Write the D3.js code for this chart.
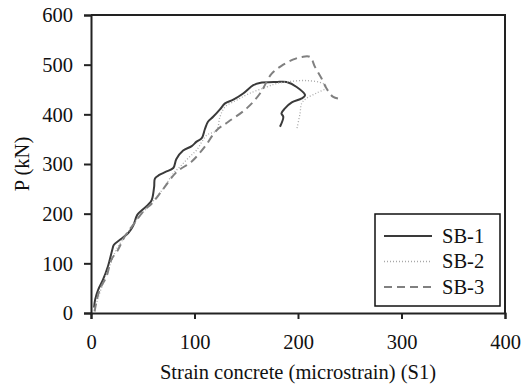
<!DOCTYPE html>
<html>
<head>
<meta charset="utf-8">
<script src="https://cdn.jsdelivr.net/npm/d3@7"></script>
<style>
  body { margin: 0; background: #fff; }
  svg text { font-family: 'Liberation Serif', 'Times New Roman', Times, 'DejaVu Serif', serif; fill: #111; }
</style>
</head>
<body>
<div id="chart"></div>
<script>
// strain (microstrain), load (kN)
const sb1Strain = [3, 4, 7, 11.6, 16.4, 21, 22, 29, 36, 40.6, 44.7, 48.6, 55, 58.6, 61, 61.8, 66, 72, 79.5, 82.5, 89, 97.3, 102, 107, 110, 113, 118, 124.6, 129.5, 137.5, 147, 156.8, 163, 179, 189, 198.7, 206.8, 203.6, 194, 187.4, 184, 185.8, 182.6];
const sb1Load = [11, 27, 47, 67, 94, 131, 137, 149, 161, 175, 197.5, 206, 217.6, 227, 254, 271, 278, 284, 292, 310, 327, 336, 345, 352, 370, 385, 395, 410, 422, 429.6, 442, 458.7, 463, 465, 465, 455, 438.6, 432, 424, 412, 402, 395, 375];

const sb2Strain = [3, 6, 10, 15, 20, 25, 35, 45, 57, 69.9, 79.5, 86, 94, 102, 111.8, 121.4, 124.6, 129.5, 140.8, 153, 169.7, 179.4, 192, 208, 224.5, 227.6, 218, 208, 203.5, 202, 199];
const sb2Load = [5, 25, 50, 80, 105, 130, 160, 190, 217.6, 251, 281, 294.6, 312, 328, 358, 368, 395, 415, 428.6, 442, 455, 462, 466, 468, 462, 454, 443, 432, 422, 402, 371.7];

const sb3Strain = [3.5, 5, 8.4, 15, 19.6, 26, 32.6, 42, 51.8, 58.6, 69.9, 82.8, 97.3, 110, 121.4, 132.7, 150.4, 163.3, 174.6, 185.8, 195, 203.6, 211.6, 216.4, 222.8, 227.6, 234, 241.9];
const sb3Load = [3, 20, 47, 73.6, 107, 127, 154, 181, 207.6, 220, 250, 284, 305, 335, 368, 385, 412, 442, 482, 500, 510, 515.6, 515.6, 495.5, 472, 452, 435, 430.6];

const seriesNames = ['SB-1', 'SB-2', 'SB-3'];
const xTicks = [0, 100, 200, 300, 400];
const yTicks = [0, 100, 200, 300, 400, 500, 600];

const FONT = "'Liberation Serif', 'Times New Roman', Times, 'DejaVu Serif', serif";
const FS = 20.5;

const styles = {
  'SB-1': { stroke: '#3a3a3a', width: 2, dash: null },
  'SB-2': { stroke: '#a8a8a8', width: 1.3, dash: '1,2' },
  'SB-3': { stroke: '#808080', width: 2, dash: '8,5' }
};

const W = 521, H = 389;
const m = { top: 15, right: 16, bottom: 76, left: 91 };
const iw = W - m.left - m.right;
const ih = H - m.top - m.bottom;

const svg = d3.select('#chart').append('svg')
  .attr('width', W).attr('height', H)
  .attr('font-family', FONT);

const g = svg.append('g')
  .attr('transform', 'translate(' + m.left + ',' + m.top + ')');

const x = d3.scaleLinear().domain([0, 400]).range([0, iw]);
const y = d3.scaleLinear().domain([0, 600]).range([ih, 0]);

const toPts = (xs, ys) => xs.map((v, i) => [v, ys[i]]);
const data = {
  'SB-1': toPts(sb1Strain, sb1Load),
  'SB-2': toPts(sb2Strain, sb2Load),
  'SB-3': toPts(sb3Strain, sb3Load)
};

// frame (top and right)
g.append('path')
  .attr('d', 'M0,0H' + iw + 'V' + ih)
  .attr('fill', 'none')
  .attr('stroke', '#222')
  .attr('stroke-width', 2);

const line = d3.line()
  .x((d) => x(d[0]))
  .y((d) => y(d[1]))
  .curve(d3.curveCatmullRom.alpha(0.5));

seriesNames.forEach((name) => {
  const s = styles[name];
  g.append('path')
    .datum(data[name])
    .attr('d', line)
    .attr('fill', 'none')
    .attr('stroke', s.stroke)
    .attr('stroke-width', s.width)
    .attr('stroke-dasharray', s.dash);
});

const xAxis = g.append('g')
  .attr('transform', 'translate(0,' + ih + ')')
  .call(d3.axisBottom(x).tickValues(xTicks).tickSize(6).tickPadding(15));
const yAxis = g.append('g')
  .call(d3.axisLeft(y).tickValues(yTicks).tickSize(7).tickPadding(11));

[xAxis, yAxis].forEach((ax) => {
  ax.attr('font-family', FONT).attr('font-size', FS);
  ax.select('.domain').attr('stroke', '#222').attr('stroke-width', 2);
  ax.selectAll('.tick line').attr('stroke', '#222').attr('stroke-width', 2);
  ax.selectAll('.tick text').attr('fill', '#111');
});
yAxis.selectAll('.tick text').attr('dy', '0.33em');

svg.append('text')
  .attr('x', m.left + iw / 2)
  .attr('y', 379)
  .attr('text-anchor', 'middle')
  .attr('font-size', FS)
  .text('Strain concrete (microstrain) (S1)');

svg.append('text')
  .attr('transform', 'translate(29,' + (m.top + ih / 2) + ') rotate(-90)')
  .attr('text-anchor', 'middle')
  .attr('font-size', FS)
  .text('P (kN)');

// legend
const lg = svg.append('g').attr('transform', 'translate(375,214)');
lg.append('rect')
  .attr('width', 125).attr('height', 92)
  .attr('fill', '#fff')
  .attr('stroke', '#111')
  .attr('stroke-width', 1.5);
seriesNames.forEach((name, i) => {
  const s = styles[name];
  const yy = 22 + i * 25.5;
  lg.append('line')
    .attr('x1', 9).attr('x2', 57)
    .attr('y1', yy).attr('y2', yy)
    .attr('stroke', s.stroke)
    .attr('stroke-width', s.width)
    .attr('stroke-dasharray', s.dash);
  lg.append('text')
    .attr('x', 67).attr('y', yy)
    .attr('dy', '0.33em')
    .attr('font-size', FS)
    .text(name);
});
</script>
</body>
</html>
